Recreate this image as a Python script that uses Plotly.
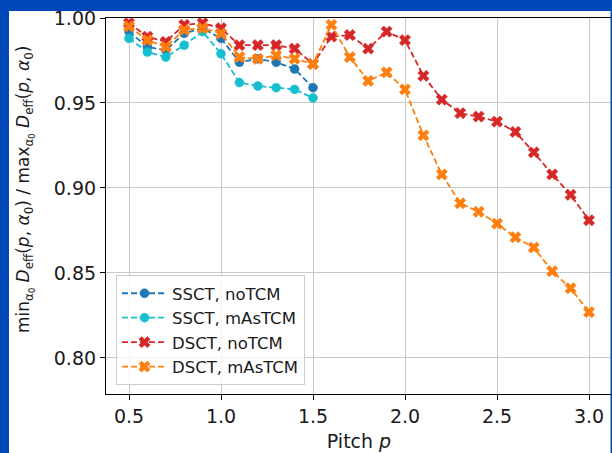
import plotly.graph_objects as go

# Pitch values
pitch_ss = [0.5, 0.6, 0.7, 0.8, 0.9, 1.0, 1.1, 1.2, 1.3, 1.4, 1.5]
pitch_ds = [0.5, 0.6, 0.7, 0.8, 0.9, 1.0, 1.1, 1.2, 1.3, 1.4, 1.5,
            1.6, 1.7, 1.8, 1.9, 2.0, 2.1, 2.2, 2.3, 2.4, 2.5,
            2.6, 2.7, 2.8, 2.9, 3.0]

# Ratio min_a0 D_eff / max_a0 D_eff
ssct_notcm = [0.992, 0.983, 0.981, 0.991, 0.994, 0.988, 0.974, 0.976, 0.974, 0.970, 0.959]
ssct_mastcm = [0.988, 0.980, 0.977, 0.984, 0.992, 0.979, 0.962, 0.960, 0.959, 0.958, 0.953]
dsct_notcm = [0.997, 0.989, 0.986, 0.996, 0.997, 0.994, 0.984, 0.984, 0.984, 0.982, 0.973,
              0.989, 0.990, 0.982, 0.992, 0.987, 0.966, 0.952, 0.944, 0.942, 0.939,
              0.933, 0.921, 0.908, 0.896, 0.881]
dsct_mastcm = [0.995, 0.987, 0.983, 0.993, 0.994, 0.991, 0.977, 0.976, 0.978, 0.976, 0.973,
               0.996, 0.977, 0.963, 0.968, 0.958, 0.931, 0.908, 0.891, 0.886, 0.879,
               0.871, 0.865, 0.851, 0.841, 0.827]

series_names = ["SSCT, noTCM", "SSCT, mAsTCM", "DSCT, noTCM", "DSCT, mAsTCM"]
x_ticks = [0.5, 1.0, 1.5, 2.0, 2.5, 3.0]
y_ticks = [0.80, 0.85, 0.90, 0.95, 1.00]
y_label = ("min<sub>α<sub>0</sub></sub> <i>D</i><sub>eff</sub>(<i>p</i>, <i>α</i><sub>0</sub>)"
           " / max<sub>α<sub>0</sub></sub> <i>D</i><sub>eff</sub>(<i>p</i>, <i>α</i><sub>0</sub>)")

W, H = 612, 453
ML, MR, MT, MB = 106, 0, 18, 59
PW, PH = W - ML - MR, H - MT - MB


def px_x(px):
    return (px - ML) / PW


def px_y(py):
    return (H - MB - py) / PH


FONT = "DejaVu Sans"
TEXT = "#1a1a1a"
traces = [
    (pitch_ss, ssct_notcm, series_names[0], "#1f77b4", "circle", 9),
    (pitch_ss, ssct_mastcm, series_names[1], "#17becf", "circle", 9),
    (pitch_ds, dsct_notcm, series_names[2], "#d62728", "x", 10),
    (pitch_ds, dsct_mastcm, series_names[3], "#ff7f0e", "x", 10),
]

fig = go.Figure()
for xs, ys, name, color, sym, size in traces:
    fig.add_trace(go.Scatter(
        x=xs, y=ys, name=name, mode="lines+markers",
        line=dict(color=color, width=1.8, dash="6px,3px"),
        marker=dict(symbol=sym, size=size, color=color,
                    line=dict(width=0.5, color=color)),
        cliponaxis=False,
    ))

axis_common = dict(
    showline=True, linecolor="black", linewidth=1.2, mirror=True,
    ticks="outside", ticklen=5, tickwidth=1, tickcolor="black",
    showgrid=True, gridcolor="#c8c8c8", gridwidth=1,
    zeroline=False,
    tickfont=dict(family=FONT, size=19, color=TEXT),
)

fig.update_xaxes(
    range=[0.375, 3.125], tickvals=x_ticks,
    ticktext=[f"{v:.1f}" for v in x_ticks],
    title=dict(text="Pitch <i>p</i>", standoff=8,
               font=dict(family=FONT, size=19, color=TEXT)),
    **axis_common,
)
fig.update_yaxes(
    range=[0.7788, 1.0], tickvals=y_ticks,
    ticktext=[f"{v:.2f}" for v in y_ticks],
    **axis_common,
)

# y-axis label placed as a rotated annotation
fig.add_annotation(
    text=y_label, textangle=-90, showarrow=False,
    xref="paper", yref="paper", x=px_x(25), y=px_y(190),
    xanchor="center", yanchor="middle",
    font=dict(family=FONT, size=17, color=TEXT),
)

BLUE = "#0048ba"
frame = [
    (0, 0, W, 11),        # top band
    (0, 0, 9, H),         # left band
    (610.5, 0, W + 2, H), # right band
]
shapes = []
for x0, y0, x1, y1 in frame:
    shapes.append(dict(type="rect", xref="paper", yref="paper",
                       x0=px_x(x0), x1=px_x(x1), y0=px_y(y1), y1=px_y(y0),
                       fillcolor=BLUE, line=dict(width=0), layer="above"))

fig.update_layout(
    width=W, height=H,
    margin=dict(l=ML, r=MR, t=MT, b=MB, autoexpand=False),
    paper_bgcolor="white", plot_bgcolor="white",
    font=dict(family=FONT, color=TEXT),
    shapes=shapes,
    showlegend=True,
    legend=dict(
        x=px_x(116), y=px_y(385), xanchor="left", yanchor="bottom",
        bgcolor="rgba(255,255,255,0.8)", bordercolor="#cccccc", borderwidth=1,
        font=dict(family=FONT, size=16.5, color=TEXT),
        itemwidth=45,
    ),
)

fig.write_html("out.html")
